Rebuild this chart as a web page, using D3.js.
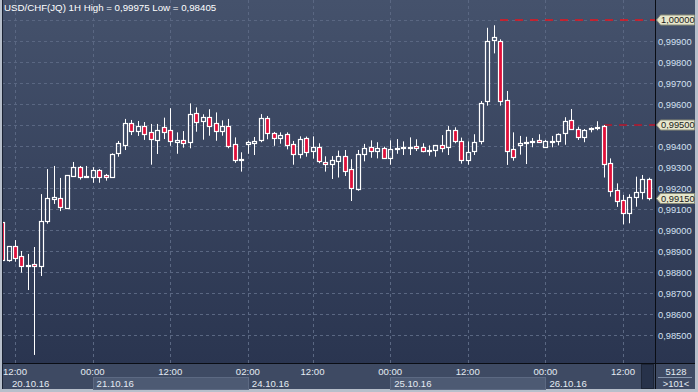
<!DOCTYPE html>
<html>
<head>
<meta charset="utf-8">
<script src="https://cdn.jsdelivr.net/npm/d3@7"></script>
<style>
body { margin: 0; background: #b7bfcb; }
text { font-family: "Liberation Sans", Arial, sans-serif; }
</style>
</head>
<body>
<div id="chart"></div>
<script>
//SVG area
var svgWidth = 698;
var svgHeight = 392;

//Hourly candles USD/CHF, 20.10.16 10:00 .. 26.10.16 16:00
var opens = [0.99038, 0.98859, 0.98922, 0.98875, 0.98830, 0.98837, 0.98830, 0.99044, 0.99149, 0.99151,
    0.99106, 0.99257, 0.99299, 0.99256, 0.99254, 0.99284, 0.99260, 0.99254, 0.99365, 0.99405,
    0.99510, 0.99471, 0.99495, 0.99467, 0.99429, 0.99489, 0.99475, 0.99420, 0.99427, 0.99418,
    0.99556, 0.99520, 0.99537, 0.99508, 0.99473, 0.99494, 0.99408, 0.99336, 0.99411, 0.99416,
    0.99427, 0.99532, 0.99460, 0.99437, 0.99456, 0.99408, 0.99363, 0.99437, 0.99375, 0.99394,
    0.99325, 0.99313, 0.99330, 0.99350, 0.99289, 0.99197, 0.99360, 0.99394, 0.99375, 0.99389,
    0.99341, 0.99386, 0.99389, 0.99389, 0.99401, 0.99394, 0.99375, 0.99380, 0.99403, 0.99394,
    0.99476, 0.99422, 0.99332, 0.99375, 0.99422, 0.99612, 0.99903, 0.99900, 0.99619, 0.99384,
    0.99406, 0.99413, 0.99419, 0.99429, 0.99394, 0.99419, 0.99422, 0.99460, 0.99524, 0.99481,
    0.99441, 0.99479, 0.99484, 0.99494, 0.99318, 0.99189, 0.99141, 0.99082, 0.99156, 0.99182,
    0.99241];
var highs = [0.99057, 0.98924, 0.98952, 0.98900, 0.98886, 0.98919, 0.99171, 0.99290, 0.99305, 0.99248,
    0.99262, 0.99324, 0.99305, 0.99305, 0.99299, 0.99290, 0.99267, 0.99365, 0.99424, 0.99529,
    0.99524, 0.99519, 0.99514, 0.99505, 0.99505, 0.99535, 0.99580, 0.99465, 0.99471, 0.99603,
    0.99584, 0.99551, 0.99575, 0.99560, 0.99522, 0.99529, 0.99441, 0.99370, 0.99425, 0.99443,
    0.99552, 0.99543, 0.99467, 0.99465, 0.99465, 0.99424, 0.99446, 0.99445, 0.99446, 0.99413,
    0.99351, 0.99352, 0.99378, 0.99381, 0.99337, 0.99381, 0.99410, 0.99427, 0.99418, 0.99397,
    0.99427, 0.99433, 0.99422, 0.99441, 0.99432, 0.99413, 0.99403, 0.99405, 0.99452, 0.99495,
    0.99489, 0.99440, 0.99422, 0.99456, 0.99614, 0.99963, 0.99975, 0.99908, 0.99662, 0.99465,
    0.99448, 0.99444, 0.99438, 0.99456, 0.99429, 0.99448, 0.99460, 0.99537, 0.99576, 0.99492,
    0.99481, 0.99489, 0.99518, 0.99500, 0.99341, 0.99222, 0.99167, 0.99170, 0.99254, 0.99262,
    0.99249];
var lows = [0.98848, 0.98849, 0.98849, 0.98797, 0.98714, 0.98405, 0.98781, 0.99030, 0.99124, 0.99090,
    0.99101, 0.99254, 0.99240, 0.99248, 0.99225, 0.99225, 0.99235, 0.99250, 0.99349, 0.99381,
    0.99452, 0.99448, 0.99429, 0.99311, 0.99362, 0.99433, 0.99401, 0.99363, 0.99392, 0.99389,
    0.99468, 0.99430, 0.99449, 0.99425, 0.99449, 0.99389, 0.99320, 0.99278, 0.99363, 0.99357,
    0.99418, 0.99432, 0.99401, 0.99411, 0.99384, 0.99311, 0.99341, 0.99349, 0.99340, 0.99318,
    0.99278, 0.99243, 0.99250, 0.99257, 0.99138, 0.99187, 0.99327, 0.99344, 0.99341, 0.99340,
    0.99311, 0.99363, 0.99357, 0.99357, 0.99376, 0.99370, 0.99354, 0.99349, 0.99370, 0.99357,
    0.99413, 0.99316, 0.99311, 0.99357, 0.99408, 0.99592, 0.99841, 0.99592, 0.99310, 0.99330,
    0.99359, 0.99314, 0.99394, 0.99417, 0.99393, 0.99394, 0.99403, 0.99406, 0.99479, 0.99429,
    0.99418, 0.99465, 0.99475, 0.99250, 0.99159, 0.99110, 0.99027, 0.99032, 0.99111, 0.99146,
    0.99141];
var closes = [0.98857, 0.98922, 0.98868, 0.98830, 0.98835, 0.98827, 0.99043, 0.99151, 0.99156, 0.99108,
    0.99260, 0.99299, 0.99254, 0.99251, 0.99284, 0.99254, 0.99251, 0.99360, 0.99414, 0.99510,
    0.99471, 0.99495, 0.99457, 0.99433, 0.99476, 0.99468, 0.99425, 0.99427, 0.99416, 0.99551,
    0.99516, 0.99537, 0.99497, 0.99473, 0.99494, 0.99401, 0.99335, 0.99338, 0.99418, 0.99422,
    0.99532, 0.99460, 0.99437, 0.99451, 0.99403, 0.99363, 0.99433, 0.99370, 0.99394, 0.99327,
    0.99313, 0.99332, 0.99352, 0.99283, 0.99201, 0.99360, 0.99389, 0.99375, 0.99389, 0.99341,
    0.99384, 0.99390, 0.99395, 0.99395, 0.99389, 0.99376, 0.99381, 0.99403, 0.99389, 0.99476,
    0.99422, 0.99332, 0.99370, 0.99418, 0.99603, 0.99899, 0.99918, 0.99616, 0.99378, 0.99349,
    0.99413, 0.99419, 0.99424, 0.99418, 0.99424, 0.99424, 0.99456, 0.99519, 0.99479, 0.99441,
    0.99476, 0.99484, 0.99490, 0.99313, 0.99184, 0.99137, 0.99079, 0.99156, 0.99180, 0.99241,
    0.99150];

//Trading days shown: label, first hour, number of bars
var dayLabels = ["20.10.16", "21.10.16", "24.10.16", "25.10.16", "26.10.16"];
var dayFirstHour = [10, 0, 2, 0, 0];
var dayBars = [14, 24, 22, 24, 17];

//Price axis labels and marked levels
var priceTicks = [1.00000, 0.99900, 0.99800, 0.99700, 0.99600, 0.99500, 0.99400, 0.99300,
    0.99200, 0.99100, 0.99000, 0.98900, 0.98800, 0.98700, 0.98600, 0.98500];
var levelLines = [1.00000, 0.99500];
var lastPrice = 0.99150;

var symbol = "USD/CHF(JQ) 1H";
var barsCount = 5128;
var visibleBars = 101;

//Plot area
var plot = { left: 2, top: 0, right: 655, bottom: 363 };

//Build candles and hour list
var candles = opens.map(function(o, i) {
    return { i: i, open: o, high: highs[i], low: lows[i], close: closes[i] };
});
var times = [];
dayLabels.forEach(function(day, d) {
    for (var k = 0; k < dayBars[d]; k++) {
        times.push({ day: d, hour: dayFirstHour[d] + k, first: k === 0 });
    }
});

//Scales
var xScale = d3.scaleLinear()
    .domain([0, candles.length - 1])
    .range([2.06, 648.9]);

var yScale = d3.scaleLinear()
    .domain([0.985, 1.0])
    .range([335, 20]);

var fmt = function(v) { return d3.format(".5f")(v).replace(".", ","); };
var pad = function(h) { return (h < 10 ? "0" : "") + h + ":00"; };

var svg = d3.select("#chart")
    .append("svg")
    .attr("width", svgWidth)
    .attr("height", svgHeight);

var defs = svg.append("defs");
var grad = defs.append("linearGradient")
    .attr("id", "bg")
    .attr("x1", 0).attr("y1", 0).attr("x2", 0).attr("y2", 1);
grad.append("stop").attr("offset", "0%").attr("stop-color", "#45526c");
grad.append("stop").attr("offset", "100%").attr("stop-color", "#2a3550");

defs.append("clipPath").attr("id", "plotClip")
    .append("rect")
    .attr("x", plot.left).attr("y", plot.top)
    .attr("width", plot.right - plot.left).attr("height", plot.bottom - plot.top);

//Backgrounds
svg.append("rect")
    .attr("width", svgWidth).attr("height", svgHeight)
    .attr("fill", "#b7bfcb");
svg.append("rect")
    .attr("x", 2).attr("y", 0).attr("width", 693).attr("height", 364)
    .attr("fill", "url(#bg)");
svg.append("rect")
    .attr("x", 2).attr("y", 364).attr("width", 693).attr("height", 25)
    .attr("fill", "#3e4a63");

//Tick positions on time axis
var timeTicks = times.map(function(t, i) { return { i: i, t: t }; })
    .filter(function(d) { return d.t.hour % 12 === 0 || (d.t.first && d.i > 0); });

var grid = svg.append("g").attr("clip-path", "url(#plotClip)");

grid.selectAll(".hgrid")
    .data(priceTicks)
    .enter()
    .append("line")
    .attr("x1", plot.left).attr("x2", plot.right)
    .attr("y1", d => Math.round(yScale(d)) + 0.5)
    .attr("y2", d => Math.round(yScale(d)) + 0.5)
    .attr("stroke", "#5a6782")
    .attr("stroke-dasharray", "3,3");

grid.selectAll(".vgrid")
    .data(timeTicks)
    .enter()
    .append("line")
    .attr("x1", d => Math.round(xScale(d.i)) + 0.5)
    .attr("x2", d => Math.round(xScale(d.i)) + 0.5)
    .attr("y1", plot.top).attr("y2", plot.bottom)
    .attr("stroke", "#5a6782")
    .attr("stroke-dasharray", "3,3");

//Level lines
grid.append("line")
    .attr("x1", 500).attr("x2", plot.right)
    .attr("y1", yScale(levelLines[0])).attr("y2", yScale(levelLines[0]))
    .attr("stroke", "#e8141e")
    .attr("stroke-width", 1.6)
    .attr("stroke-dasharray", "8,7");
grid.append("line")
    .attr("x1", 604).attr("x2", plot.right)
    .attr("y1", yScale(levelLines[1])).attr("y2", yScale(levelLines[1]))
    .attr("stroke", "#b8142a")
    .attr("stroke-width", 1.4)
    .attr("stroke-dasharray", "8,7");

//Candles
var cx = d => Math.round(xScale(d.i)) + 0.5;
var bodyTop = d => Math.round(yScale(Math.max(d.open, d.close))) + 0.5;
var bodyBot = d => Math.max(Math.round(yScale(Math.min(d.open, d.close))) + 0.5, bodyTop(d) + 1);

var candleGroup = svg.append("g").attr("clip-path", "url(#plotClip)");

var cg = candleGroup.selectAll(".candle")
    .data(candles)
    .enter()
    .append("g");

cg.append("line")
    .attr("x1", cx).attr("x2", cx)
    .attr("y1", d => yScale(d.high))
    .attr("y2", bodyTop)
    .attr("stroke", "#ffffff");
cg.append("line")
    .attr("x1", cx).attr("x2", cx)
    .attr("y1", bodyBot)
    .attr("y2", d => yScale(d.low))
    .attr("stroke", "#ffffff");
cg.append("rect")
    .attr("x", d => cx(d) - 2)
    .attr("y", bodyTop)
    .attr("width", 4)
    .attr("height", d => bodyBot(d) - bodyTop(d))
    .attr("fill", d => d.close < d.open ? "#e0103a" : "none")
    .attr("stroke", "#ffffff")
    .attr("stroke-width", 1.2);

//Frame lines
svg.append("line")
    .attr("x1", 655.5).attr("x2", 655.5).attr("y1", 0).attr("y2", 389)
    .attr("stroke", "#0a0d14");
svg.append("line")
    .attr("x1", 2).attr("x2", 695).attr("y1", 363.5).attr("y2", 363.5)
    .attr("stroke", "#0a0d14");
svg.append("line")
    .attr("x1", 2.5).attr("x2", 2.5).attr("y1", 0).attr("y2", 389)
    .attr("stroke", "#1a2233");

//Title
svg.append("text")
    .attr("x", 4).attr("y", 11)
    .attr("font-size", "9.7px")
    .attr("fill", "#ffffff")
    .text(symbol + " High = " + fmt(d3.max(highs)) + " Low = " + fmt(d3.min(lows)));

//Price axis labels
svg.selectAll(".plabel")
    .data(priceTicks.filter(p => levelLines.indexOf(p) < 0))
    .enter()
    .append("text")
    .attr("x", 658)
    .attr("y", d => yScale(d) + 3.5)
    .attr("font-size", "9.3px")
    .attr("fill", "#d3e0f2")
    .text(fmt);

//Marked prices on the axis
var marks = levelLines.concat([lastPrice]);
var mg = svg.selectAll(".mark")
    .data(marks)
    .enter()
    .append("g")
    .attr("transform", d => `translate(0, ${yScale(d)})`);
mg.append("path")
    .attr("d", "M656.5,0 L660.5,-5 L694.5,-5 L694.5,5 L660.5,5 Z")
    .attr("fill", "#e6e6cc")
    .attr("stroke", "#8a8c78");
mg.append("text")
    .attr("x", 661).attr("y", 3.4)
    .attr("font-size", "9.3px")
    .attr("fill", "#1a1a1a")
    .text(fmt);

//Date bands
var dayStart = [];
var acc = 0;
dayBars.forEach(function(n) { dayStart.push(acc); acc += n; });

svg.selectAll(".band")
    .data(dayLabels.map((d, k) => k).filter(k => k % 2 === 1))
    .enter()
    .append("rect")
    .attr("x", k => Math.round(xScale(dayStart[k])) + 0.5)
    .attr("y", 377.5)
    .attr("width", k => Math.round(xScale(dayStart[k + 1])) - Math.round(xScale(dayStart[k])))
    .attr("height", 12)
    .attr("fill", "#4d5a73")
    .attr("stroke", "#5c6982");

svg.selectAll(".dlabel")
    .data(dayLabels)
    .enter()
    .append("text")
    .attr("x", (d, k) => Math.max(xScale(dayStart[k]), 8) + 4)
    .attr("y", 386.5)
    .attr("font-size", "9.6px")
    .attr("fill", "#e4eaf2")
    .text(d => d);

svg.selectAll(".tlabel")
    .data(timeTicks)
    .enter()
    .append("text")
    .attr("x", d => xScale(d.i))
    .attr("y", 375)
    .attr("text-anchor", "middle")
    .attr("font-size", "9.6px")
    .attr("fill", "#e4eaf2")
    .text(d => pad(d.t.hour));

//Scroll box and bar counters
svg.append("rect")
    .attr("x", 641.5).attr("y", 364.5).attr("width", 12).attr("height", 24)
    .attr("fill", "#27324a")
    .attr("stroke", "#1d2536");

svg.append("text")
    .attr("x", 676).attr("y", 375)
    .attr("text-anchor", "middle")
    .attr("font-size", "9.4px")
    .attr("fill", "#e4eaf2")
    .text(barsCount);
svg.append("line")
    .attr("x1", 658).attr("x2", 692).attr("y1", 377.5).attr("y2", 377.5)
    .attr("stroke", "#8594ab");
svg.append("text")
    .attr("x", 676).attr("y", 387)
    .attr("text-anchor", "middle")
    .attr("font-size", "9.4px")
    .attr("fill", "#e4eaf2")
    .text(">" + visibleBars + "<");
</script>
</body>
</html>
